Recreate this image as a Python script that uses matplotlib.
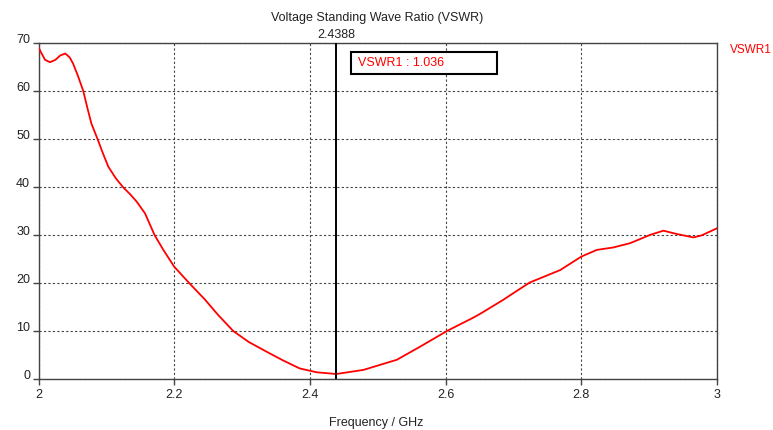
import matplotlib
matplotlib.use("Agg")
import matplotlib.pyplot as plt
from matplotlib.patches import Rectangle
from matplotlib.transforms import ScaledTranslation, blended_transform_factory

# ---- data ----
freq_ghz = [2.000, 2.002, 2.0096, 2.017, 2.025, 2.032, 2.0395, 2.046, 2.051, 2.058,
            2.066, 2.072, 2.078, 2.087, 2.095, 2.103, 2.114, 2.125, 2.135, 2.145,
            2.157, 2.171, 2.184, 2.200, 2.222, 2.245, 2.265, 2.287, 2.310, 2.336,
            2.360, 2.385, 2.410, 2.4388, 2.479, 2.528, 2.562, 2.602, 2.641, 2.650,
            2.685, 2.700, 2.724, 2.769, 2.800, 2.823, 2.847, 2.872, 2.901, 2.921,
            2.941, 2.965, 2.977, 3.000]
vswr = [69.2, 68.5, 66.5, 66.0, 66.5, 67.4, 67.8, 67.0, 65.7, 63.2,
        60.0, 56.5, 53.2, 50.0, 47.0, 44.2, 41.8, 39.9, 38.5, 36.9,
        34.5, 30.0, 26.9, 23.4, 20.0, 16.6, 13.3, 10.0, 7.7, 5.7,
        3.9, 2.2, 1.4, 1.04, 1.9, 4.0, 6.7, 10.0, 12.8, 13.5,
        16.5, 17.9, 20.1, 22.7, 25.5, 26.9, 27.4, 28.3, 30.0, 30.9,
        30.2, 29.5, 29.9, 31.4]
x_ticks = [2.0, 2.2, 2.4, 2.6, 2.8, 3.0]
x_tick_labels = ["2", "2.2", "2.4", "2.6", "2.8", "3"]
y_ticks = [0, 10, 20, 30, 40, 50, 60, 70]
marker_freq = 2.4388
marker_value = 1.036
series_name = "VSWR1"
title = "Voltage Standing Wave Ratio (VSWR)"
x_label = "Frequency / GHz"

plt.rcParams['font.family'] = ['Liberation Sans', 'DejaVu Sans']
plt.rcParams['font.size'] = 9

W, H = 773, 430
fig = plt.figure(figsize=(W / 100, H / 100), dpi=100)
ax = fig.add_axes([38.5 / W, (H - 379) / H, (717 - 38.5) / W, (379 - 43) / H])

ax.plot(freq_ghz, vswr, color='#ff0000', lw=1.3, zorder=3,
        solid_joinstyle='round')
ax.axvline(marker_freq, color='black', lw=1.4, zorder=4)

ax.set_xlim(2.0, 3.0)
ax.set_ylim(0, 70)
ax.set_xticks(x_ticks)
ax.set_xticklabels(x_tick_labels)
ax.set_yticks(y_ticks)
ax.grid(True, color='#444444', linestyle=(0, (2, 2)), lw=0.8)
ax.set_axisbelow(True)

for s in ax.spines.values():
    s.set_color('#444444')
    s.set_linewidth(1.0)

ax.tick_params(axis='both', direction='out', length=4, width=1, color='#444444',
               labelsize=9, labelcolor='#222222')
ax.tick_params(axis='y', pad=2)
ax.tick_params(axis='x', pad=3)
off = ScaledTranslation(0, 3 / 72, fig.dpi_scale_trans)
for lab in ax.get_yticklabels():
    lab.set_transform(lab.get_transform() + off)

# marker value above the axes
trans = blended_transform_factory(ax.transData, ax.transAxes)
ax.text(marker_freq, 1.005, f"{marker_freq:.4f}", transform=trans,
        ha='center', va='bottom', fontsize=9, color='#222222')

# marker readout box
fig.patches.append(Rectangle((350.7 / W, (H - 74) / H), 146 / W, 22.3 / H,
                             transform=fig.transFigure, facecolor='white',
                             edgecolor='black', lw=1.5, zorder=5))
fig.text(358 / W, (H - 63) / H, f"{series_name} : {marker_value:.3f}",
         color='#ff0000', fontsize=9, ha='left', va='center', zorder=6)

# legend text on right
fig.text(729.5 / W, (H - 50) / H, series_name, color='#ff0000', fontsize=8.5,
         ha='left', va='center')

fig.text(377 / W, (H - 18) / H, title, ha='center', va='center', fontsize=9,
         color='#222222')
fig.text(376 / W, (H - 423) / H, x_label, ha='center', va='center', fontsize=9,
         color='#222222')

fig.savefig("out.png", dpi=100)
